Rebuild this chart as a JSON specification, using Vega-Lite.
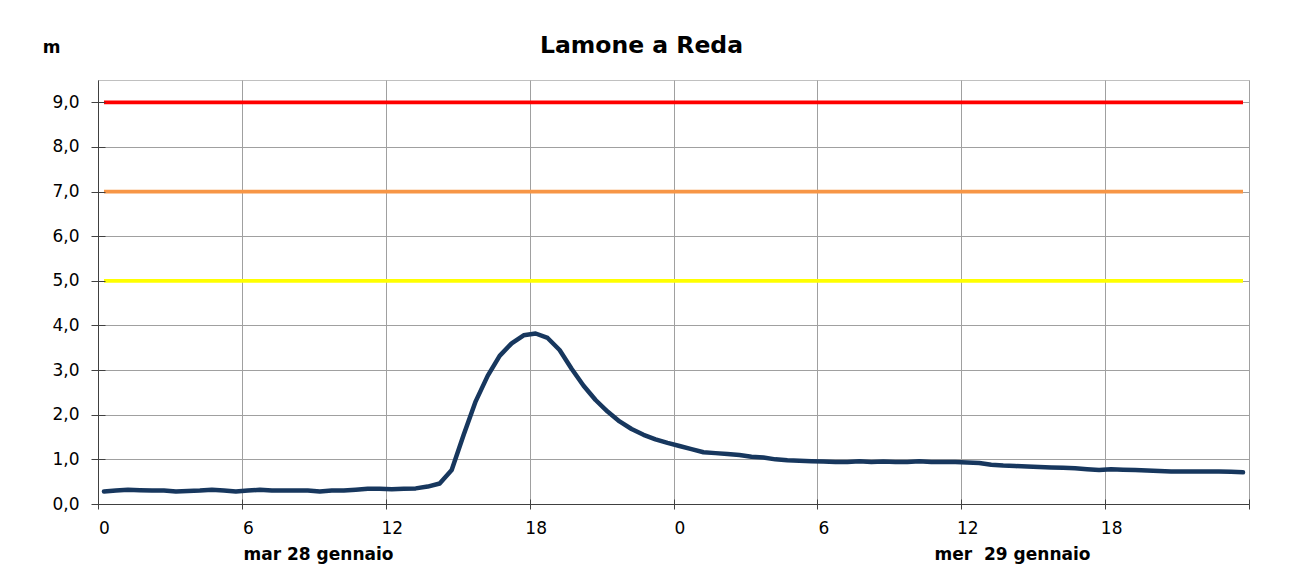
{
  "$schema": "https://vega.github.io/schema/vega-lite/v6.json",
  "width": 1151,
  "height": 424,
  "autosize": {"type": "none"},
  "padding": {"left": 98, "top": 80, "right": 43, "bottom": 66},
  "background": "white",
  "title": {"text": "Lamone a Reda", "font": "DejaVu Sans", "fontSize": 23.5, "fontWeight": "bold", "color": "black", "anchor": "middle", "frame": "group", "dx": -32, "offset": 0, "dy": 38, "baseline": "alphabetic"},
  "datasets": {
    "livello": [
      {"ora": 0.25, "m": 0.28}, {"ora": 0.75, "m": 0.30}, {"ora": 1.25, "m": 0.32}, {"ora": 1.75, "m": 0.31},
      {"ora": 2.25, "m": 0.30}, {"ora": 2.75, "m": 0.30}, {"ora": 3.25, "m": 0.28}, {"ora": 3.75, "m": 0.29},
      {"ora": 4.25, "m": 0.30}, {"ora": 4.75, "m": 0.32}, {"ora": 5.25, "m": 0.30}, {"ora": 5.75, "m": 0.28},
      {"ora": 6.25, "m": 0.30}, {"ora": 6.75, "m": 0.32}, {"ora": 7.25, "m": 0.30}, {"ora": 7.75, "m": 0.30},
      {"ora": 8.25, "m": 0.30}, {"ora": 8.75, "m": 0.30}, {"ora": 9.25, "m": 0.28}, {"ora": 9.75, "m": 0.30},
      {"ora": 10.25, "m": 0.30}, {"ora": 10.75, "m": 0.32}, {"ora": 11.25, "m": 0.34}, {"ora": 11.75, "m": 0.34},
      {"ora": 12.25, "m": 0.33}, {"ora": 12.75, "m": 0.34}, {"ora": 13.25, "m": 0.35}, {"ora": 13.75, "m": 0.39},
      {"ora": 14.25, "m": 0.46}, {"ora": 14.75, "m": 0.76}, {"ora": 15.25, "m": 1.55}, {"ora": 15.75, "m": 2.30},
      {"ora": 16.25, "m": 2.87}, {"ora": 16.75, "m": 3.32}, {"ora": 17.25, "m": 3.60}, {"ora": 17.75, "m": 3.78},
      {"ora": 18.25, "m": 3.82}, {"ora": 18.75, "m": 3.72}, {"ora": 19.25, "m": 3.45}, {"ora": 19.75, "m": 3.03},
      {"ora": 20.25, "m": 2.65}, {"ora": 20.75, "m": 2.33}, {"ora": 21.25, "m": 2.07}, {"ora": 21.75, "m": 1.85},
      {"ora": 22.25, "m": 1.68}, {"ora": 22.75, "m": 1.55}, {"ora": 23.25, "m": 1.45}, {"ora": 23.75, "m": 1.37},
      {"ora": 24.25, "m": 1.30}, {"ora": 24.75, "m": 1.23}, {"ora": 25.25, "m": 1.16}, {"ora": 25.75, "m": 1.14},
      {"ora": 26.25, "m": 1.12}, {"ora": 26.75, "m": 1.10}, {"ora": 27.25, "m": 1.06}, {"ora": 27.75, "m": 1.04},
      {"ora": 28.25, "m": 1.00}, {"ora": 28.75, "m": 0.98}, {"ora": 29.25, "m": 0.97}, {"ora": 29.75, "m": 0.96},
      {"ora": 30.25, "m": 0.95}, {"ora": 30.75, "m": 0.94}, {"ora": 31.25, "m": 0.94}, {"ora": 31.75, "m": 0.96},
      {"ora": 32.25, "m": 0.94}, {"ora": 32.75, "m": 0.95}, {"ora": 33.25, "m": 0.94}, {"ora": 33.75, "m": 0.94},
      {"ora": 34.25, "m": 0.96}, {"ora": 34.75, "m": 0.94}, {"ora": 35.25, "m": 0.94}, {"ora": 35.75, "m": 0.94},
      {"ora": 36.25, "m": 0.93}, {"ora": 36.75, "m": 0.92}, {"ora": 37.25, "m": 0.88}, {"ora": 37.75, "m": 0.86},
      {"ora": 38.25, "m": 0.85}, {"ora": 38.75, "m": 0.84}, {"ora": 39.25, "m": 0.83}, {"ora": 39.75, "m": 0.82},
      {"ora": 40.25, "m": 0.81}, {"ora": 40.75, "m": 0.80}, {"ora": 41.25, "m": 0.78}, {"ora": 41.75, "m": 0.76},
      {"ora": 42.25, "m": 0.78}, {"ora": 42.75, "m": 0.77}, {"ora": 43.25, "m": 0.76}, {"ora": 43.75, "m": 0.75},
      {"ora": 44.25, "m": 0.74}, {"ora": 44.75, "m": 0.73}, {"ora": 45.25, "m": 0.73}, {"ora": 45.75, "m": 0.73},
      {"ora": 46.25, "m": 0.73}, {"ora": 46.75, "m": 0.73}, {"ora": 47.25, "m": 0.72}, {"ora": 47.75, "m": 0.71}
    ],
    "soglie": [
      {"ora": 0.25, "m": 5, "soglia": "gialla"}, {"ora": 47.75, "m": 5, "soglia": "gialla"},
      {"ora": 0.25, "m": 7, "soglia": "arancione"}, {"ora": 47.75, "m": 7, "soglia": "arancione"},
      {"ora": 0.25, "m": 9, "soglia": "rossa"}, {"ora": 47.75, "m": 9, "soglia": "rossa"}
    ]
  },
  "config": {
    "view": {"stroke": "#c0c0c0", "strokeWidth": 1},
    "axis": {"labelFont": "DejaVu Sans", "labelFontSize": 17, "labelColor": "black", "domainColor": "#404040", "tickColor": "#404040", "gridColor": "#a0a0a0", "gridOpacity": 1, "gridWidth": 1, "labelFlush": false, "labelOverlap": false,
             "titleFont": "DejaVu Sans", "titleFontSize": 17, "titleFontWeight": "bold", "titleColor": "black", "titleAngle": 0, "titleAlign": "center", "titleBaseline": "alphabetic"}
  },
  "layer": [
    {
      "data": {"name": "soglie"},
      "mark": {"type": "line", "strokeWidth": 3.75, "strokeCap": "butt"},
      "encoding": {
        "x": {"field": "ora", "type": "quantitative", "scale": {"domain": [0, 48], "nice": false, "zero": false},
              "axis": {"orient": "bottom", "values": [0, 6, 12, 18, 24, 30, 36, 42, 48], "labels": false, "domain": false, "grid": false, "ticks": true, "tickSize": -5, "zindex": 1,
                       "title": "mer \u00a029 gennaio", "titleX": 914, "titleY": 55}},
        "y": {"field": "m", "type": "quantitative", "scale": {"domain": [0, 9.5], "nice": false, "zero": true},
              "axis": {"orient": "left", "values": [0, 1, 2, 3, 4, 5, 6, 7, 8, 9], "labels": false, "domain": false, "grid": false, "ticks": true, "tickSize": -7, "zindex": 1, "title": null}},
        "color": {"field": "soglia", "type": "nominal", "scale": {"domain": ["gialla", "arancione", "rossa"], "range": ["#FFFF00", "#F79646", "#FF0000"]}, "legend": null}
      }
    },
    {
      "data": {"name": "livello"},
      "mark": {"type": "line", "color": "#17375E", "strokeWidth": 4.5, "strokeJoin": "round", "strokeCap": "round"},
      "encoding": {
        "x": {"field": "ora", "type": "quantitative", "scale": {"domain": [0, 48], "nice": false, "zero": false},
              "axis": {"orient": "bottom", "values": [0, 6, 12, 18, 24, 30, 36, 42, 48], "labelExpr": "datum.value == 48 ? '' : '' + (datum.value % 24)", "labelOffset": 6, "tickSize": 5, "labelPadding": 11, "grid": true,
                       "title": "mar 28 gennaio", "titleX": 220, "titleY": 55}},
        "y": {"field": "m", "type": "quantitative", "scale": {"domain": [0, 9.5], "nice": false, "zero": true},
              "axis": {"orient": "left", "values": [0, 1, 2, 3, 4, 5, 6, 7, 8, 9], "labelExpr": "replace(format(datum.value, '.1f'), '.', ',')", "tickSize": 7, "labelPadding": 12, "grid": true,
                       "title": "m", "titleX": -47, "titleY": -28}}
      }
    }
  ],
  "resolve": {"axis": {"x": "independent", "y": "independent"}}
}
